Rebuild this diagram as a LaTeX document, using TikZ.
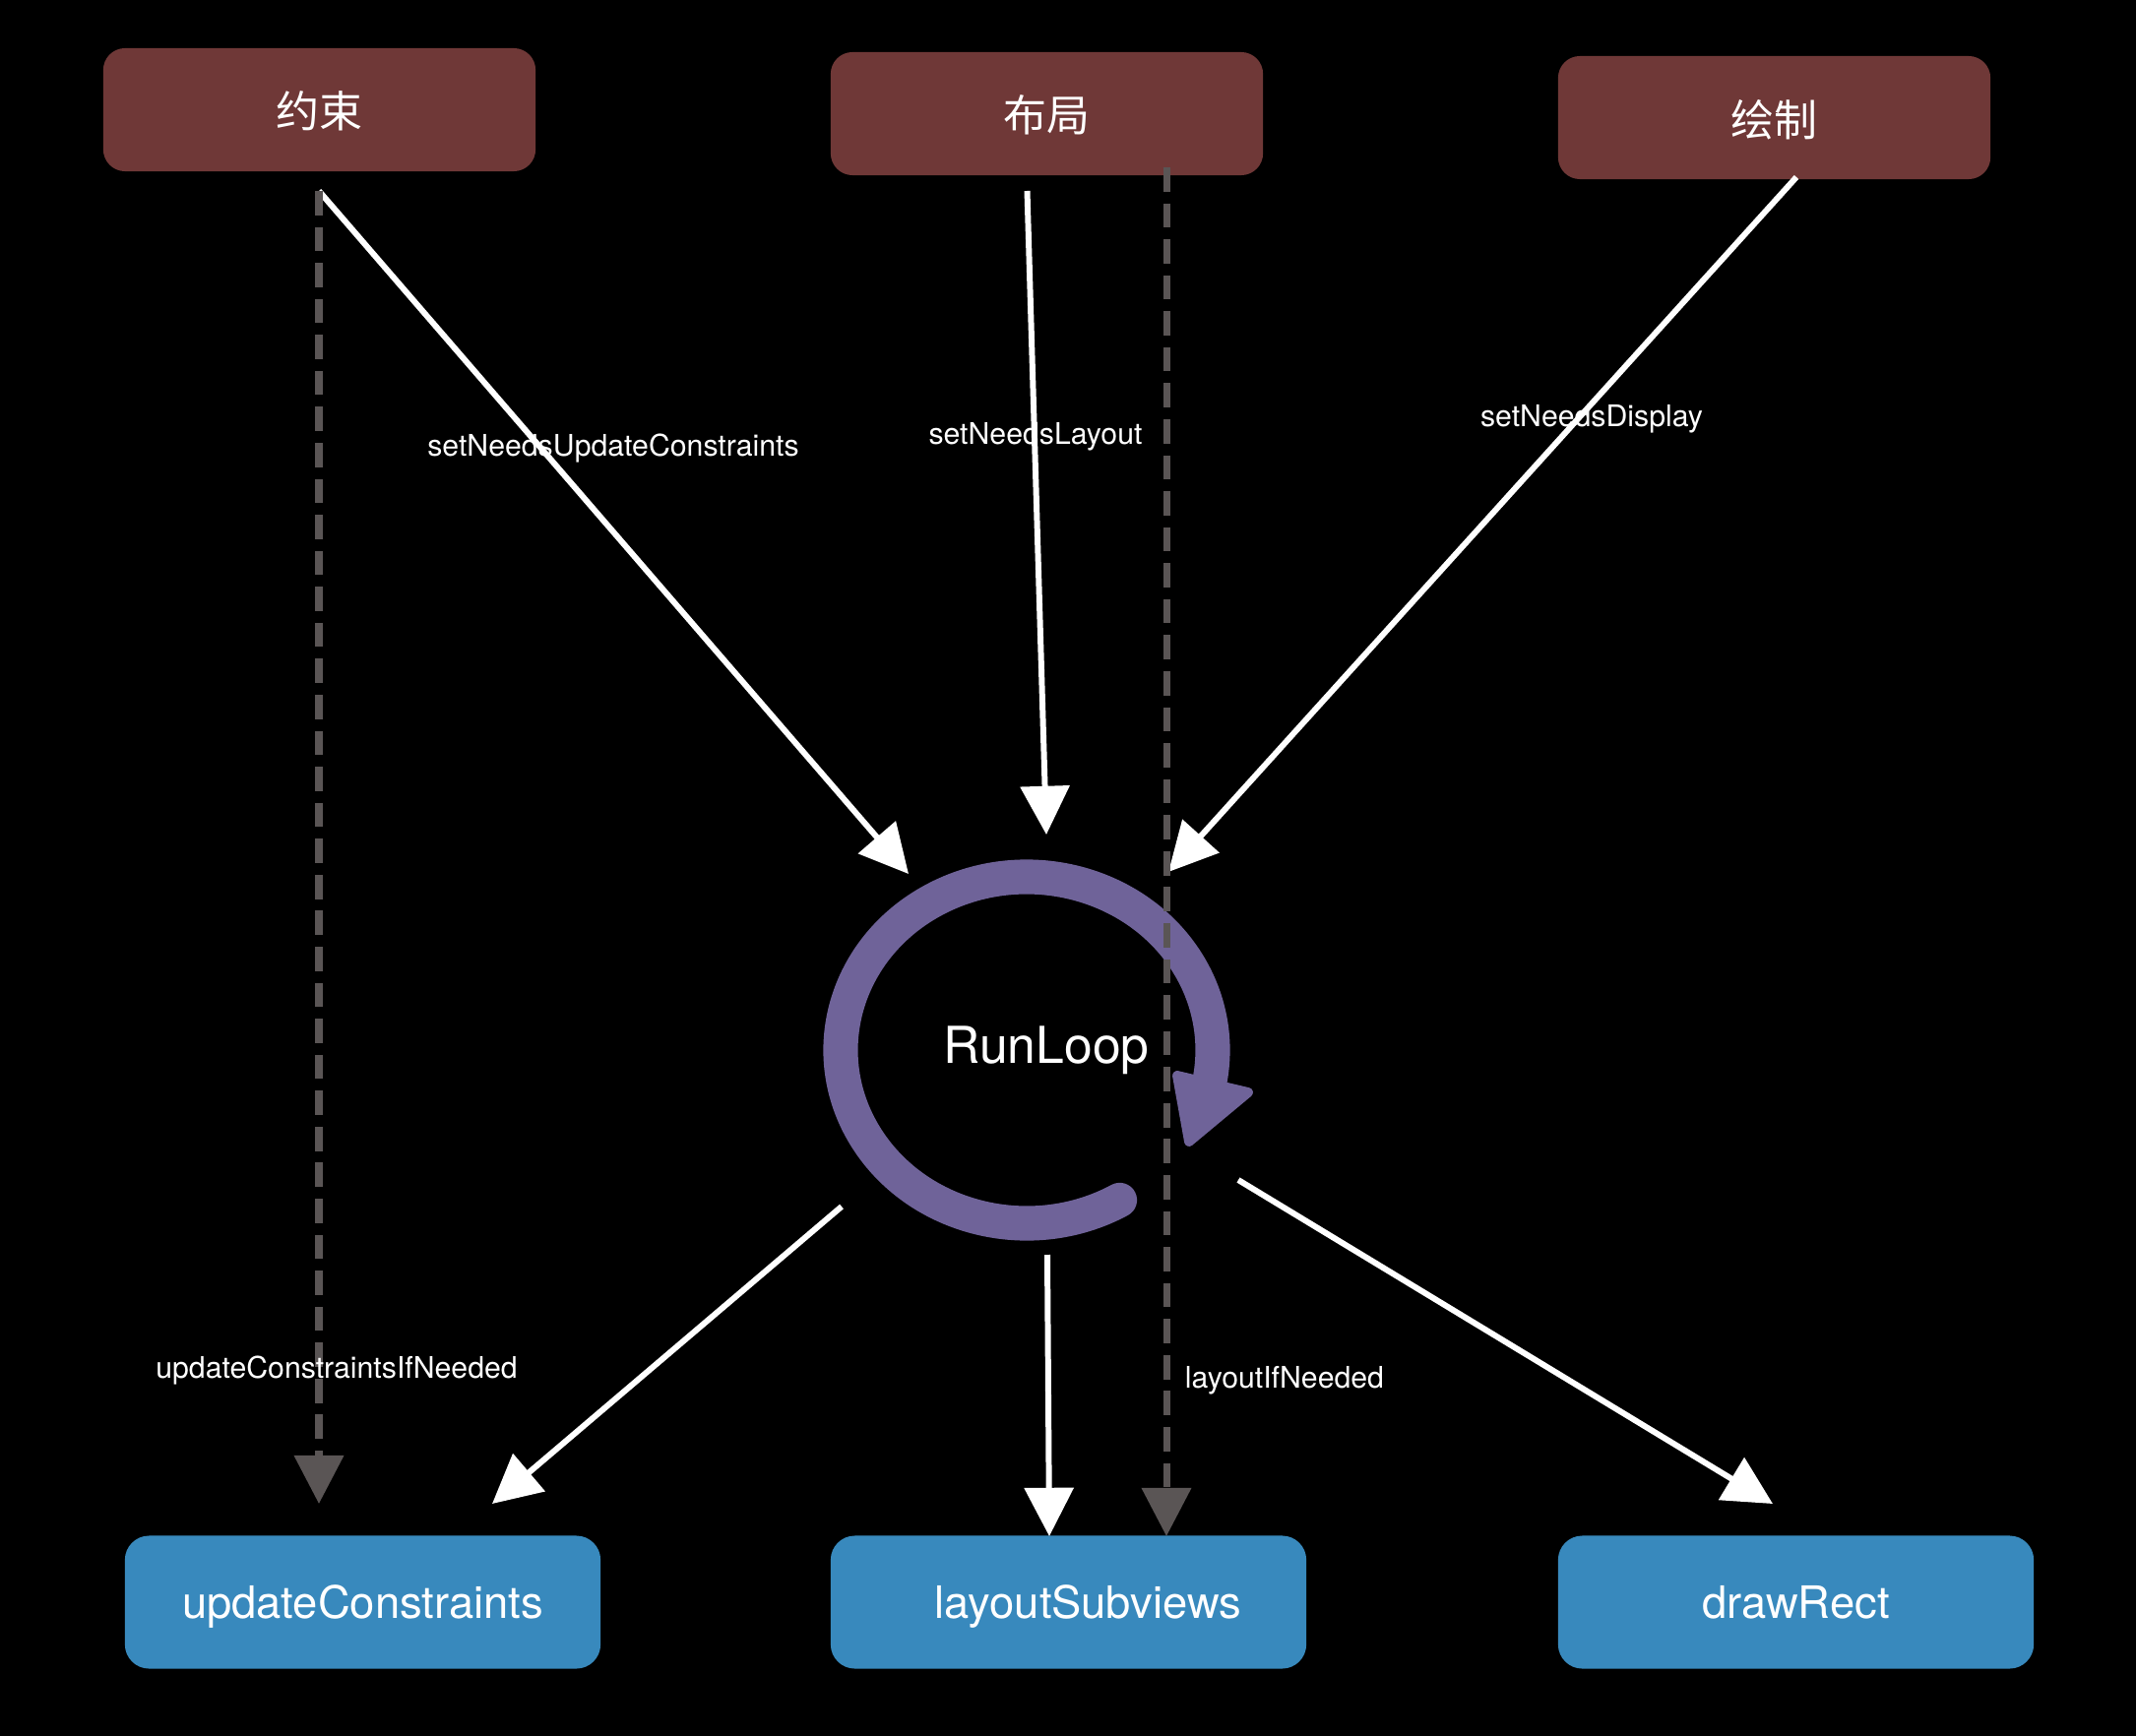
\documentclass[tikz,border=0pt]{standalone}
\usepackage{fontspec}
\setmainfont{TeX Gyre Heros}
\newfontfamily\cjk{Noto Sans CJK SC}
\usetikzlibrary{arrows.meta}
\definecolor{phasefill}{RGB}{111,56,55}
\definecolor{callfill}{RGB}{56,137,189}
\definecolor{loopfill}{RGB}{111,99,153}
\definecolor{forcegray}{RGB}{90,85,85}

\begin{document}
\begin{tikzpicture}[x=0.01cm, y=-0.01cm,
    phase/.style={rectangle, rounded corners=6.3pt, fill=phasefill, text=white,
        minimum width=4.39cm, minimum height=1.25cm, inner sep=0pt, text depth=0pt,
        font=\cjk\fontsize{12.5}{15}\selectfont},
    callback/.style={rectangle, rounded corners=7pt, fill=callfill, text=white,
        minimum width=4.83cm, minimum height=1.35cm, inner sep=0pt, text depth=0pt,
        font=\fontsize{12.9}{15}\selectfont},
    msg/.style={text=white, inner sep=1pt, font=\fontsize{8.6}{10}\selectfont},
    flow/.style={white, line width=1.7pt, -{Triangle[length=14pt, width=14pt]}},
    force/.style={forcegray, line width=2pt, dash pattern=on 7pt off 3.4pt,
        -{Triangle[length=14pt, width=14pt]}}]

    \fill[black] (0,0) rectangle (2170,1764);
    \useasboundingbox (0,0) rectangle (2170,1764);

    % phases
    \node[phase] (yueshu) at (324.5,111.5) {约束};
    \node[phase] (buju)   at (1063.5,115.5) {布局};
    \node[phase] (huizhi) at (1802.5,119.5) {绘制};

    % callbacks
    \node[callback] (updC)   at (368.5,1628) {updateConstraints};
    \node[callback] (laySub) at (1085.5,1628) {\hspace*{0.4cm}layoutSubviews};
    \node[callback] (drawR)  at (1824.5,1628) {drawRect};

    % run loop
    \coordinate (loop) at (1043,1067);
    \node[text=white, font=\fontsize{14.7}{17}\selectfont] (runloop) at (1063,1067) {RunLoop};
    \draw[loopfill, line width=10pt, line cap=round]
        (loop) ++(60:189 and 176) arc[start angle=60, end angle=371, x radius=189, y radius=176];
    \filldraw[loopfill, line width=2.8pt, line join=round]
        (1196,1093) -- (1268,1110) -- (1208,1160) -- cycle;

    % ends of the connectors
    \coordinate (yueshuOut) at (324,194);
    \coordinate (bujuOut)   at (1043.5,194);
    \coordinate (huizhiOut) at (1825,180);
    \coordinate (inA) at (923,888);
    \coordinate (inB) at (1063,848);
    \coordinate (inC) at (1187,886);
    \coordinate (outA) at (855,1226);
    \coordinate (outB) at (1064,1275);
    \coordinate (outC) at (1258,1199);
    \coordinate (updIn)  at (500,1528);
    \coordinate (layIn)  at (1066,1561);
    \coordinate (drawIn) at (1801,1528);
    \coordinate (bujuDash) at (1185,170);
    \coordinate (layDash)  at (1185,1561);
    \coordinate (updDash)  at (324,1528);

    \draw[flow] (yueshuOut) -- (inA);
    \draw[flow] (bujuOut) -- (inB);
    \draw[flow] (huizhiOut) -- (inC);
    \draw[flow] (outA) -- (updIn);
    \draw[flow] (outB) -- (layIn);
    \draw[flow] (outC) -- (drawIn);

    \draw[force] (yueshuOut) -- (updDash);
    \draw[force] (bujuDash) -- (layDash);

    % labels
    \node[msg] (needsUpd)  at (623,455)  {setNeedsUpdateConstraints};
    \node[msg] (needsLay)  at (1052,444) {setNeedsLayout};
    \node[msg] (needsDisp) at (1617,426) {setNeedsDisplay};
    \node[msg] (updIf)     at (342,1392) {updateConstraintsIfNeeded};
    \node[msg] (layIf)     at (1305,1403) {layoutIfNeeded};
\end{tikzpicture}
\end{document}
